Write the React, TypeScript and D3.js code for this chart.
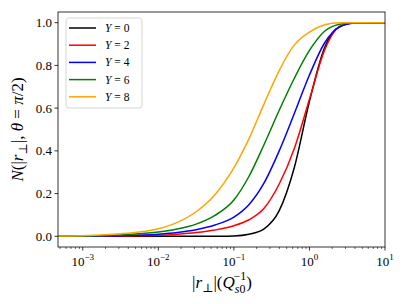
import React from "react";
import * as d3 from "d3";

// |r_perp| sample points (log-spaced) and N at each one, per rapidity Y
const rGrid = [
  4.7e-4, 1e-3, 3.16e-3, 0.01, 0.0178, 0.0316, 0.0562, 0.1, 0.158, 0.251, 0.398, 0.631, 1, 1.585, 2.512, 3.981,
  6.31, 10,
];
const nY0 = [0, 0, 0, 0, 0, 0, 0.0005, 0.002, 0.01, 0.035, 0.12, 0.322, 0.632, 0.882, 0.982, 1, 1, 1];
const nY2 = [0, 0.0003, 0.0015, 0.005, 0.01, 0.0175, 0.0295, 0.0495, 0.0775, 0.1315, 0.245, 0.4115, 0.6415, 0.8715, 0.9815, 1, 1, 1];
const nY4 = [0.0002, 0.0008, 0.003, 0.01, 0.018, 0.031, 0.053, 0.09, 0.148, 0.25, 0.4, 0.575, 0.755, 0.905, 0.98, 0.998, 1, 1];
const nY6 = [0.0005, 0.0015, 0.006, 0.02, 0.034, 0.057, 0.098, 0.17, 0.28, 0.43, 0.59, 0.74, 0.87, 0.96, 0.993, 1, 1, 1];
const nY8 = [0.001, 0.003, 0.012, 0.035, 0.065, 0.115, 0.195, 0.32, 0.456, 0.62, 0.776, 0.896, 0.956, 0.99, 1, 1, 1, 1];

const seriesNames = ["0", "2", "4", "6", "8"];
const seriesColors = ["#000000", "#ff0000", "#0000ff", "#008000", "#ffa500"];
const seriesValues = [nY0, nY2, nY4, nY6, nY8];

const xTickExps = [-3, -2, -1, 0, 1];
const yTicks = [0, 0.2, 0.4, 0.6, 0.8, 1.0];

const W = 406;
const H = 304;
const margin = { top: 12, right: 21, bottom: 57, left: 58 };
const font = "'Liberation Serif', 'DejaVu Serif', serif";

export default function App() {
  const x = d3.scaleLog().domain([4.7e-4, 10]).range([margin.left, W - margin.right]);
  const y = d3.scaleLinear().domain([-0.05, 1.05]).range([H - margin.bottom, margin.top]);

  const line = d3
    .line<[number, number]>()
    .x((d) => x(d[0]))
    .y((d) => y(d[1]))
    .curve(d3.curveMonotoneX);

  // minor ticks 2..9 x 10^k inside the domain
  const minor: number[] = [];
  for (let e = -4; e <= 0; e++) {
    for (let k = 2; k <= 9; k++) {
      const v = k * Math.pow(10, e);
      if (v >= 4.7e-4 && v <= 10) minor.push(v);
    }
  }

  const bottom = H - margin.bottom;
  const left = margin.left;

  return (
    <svg width={W} height={H} style={{ position: "absolute", left: 0, top: 0, background: "white" }}>
      <defs>
        <clipPath id="plotArea">
          <rect x={left} y={margin.top} width={W - margin.left - margin.right} height={bottom - margin.top} />
        </clipPath>
      </defs>

      <g clipPath="url(#plotArea)">
        {seriesValues.map((vals, i) => (
          <path
            key={i}
            d={line(rGrid.map((r, j) => [r, vals[j]] as [number, number])) || ""}
            fill="none"
            stroke={seriesColors[i]}
            strokeWidth={1.5}
          />
        ))}
      </g>

      {/* frame */}
      <rect
        x={left}
        y={margin.top}
        width={W - margin.left - margin.right}
        height={bottom - margin.top}
        fill="none"
        stroke="#000"
        strokeWidth={0.8}
      />

      {/* x ticks */}
      {minor.map((v, i) => (
        <line key={"m" + i} x1={x(v)} x2={x(v)} y1={bottom} y2={bottom + 2} stroke="#000" strokeWidth={0.6} />
      ))}
      {xTickExps.map((e) => {
        const px = x(Math.pow(10, e));
        return (
          <g key={"x" + e}>
            <line x1={px} x2={px} y1={bottom} y2={bottom + 3.5} stroke="#000" strokeWidth={0.8} />
            <text x={px} y={bottom + 19} textAnchor="middle" fontFamily={font} fontSize={13}>
              10
              <tspan dy={-6} fontSize={9}>
                {e < 0 ? "\u2212" + Math.abs(e) : String(e)}
              </tspan>
            </text>
          </g>
        );
      })}

      {/* y ticks */}
      {yTicks.map((t) => (
        <g key={"y" + t}>
          <line x1={left - 3.5} x2={left} y1={y(t)} y2={y(t)} stroke="#000" strokeWidth={0.8} />
          <text x={left - 6} y={y(t) + 4.5} textAnchor="end" fontFamily={font} fontSize={13}>
            {t.toFixed(1)}
          </text>
        </g>
      ))}

      {/* x label */}
      <text x={222} y={288} textAnchor="middle" fontFamily={font} fontSize={17}>
        |<tspan fontStyle="italic">r</tspan>
        <tspan dy={4} fontSize={12}>⊥</tspan>
        <tspan dy={-4}>|(</tspan>
        <tspan fontStyle="italic">Q</tspan>
        <tspan dy={5} fontSize={12}>
          <tspan fontStyle="italic">s</tspan>0
        </tspan>
        <tspan dx={-12} dy={-13} fontSize={12}>
          {"\u22121"}
        </tspan>
        <tspan dy={8}>)</tspan>
      </text>

      {/* y label */}
      <text
        transform={`translate(23,${(margin.top + bottom) / 2}) rotate(-90)`}
        textAnchor="middle"
        fontFamily={font}
        fontSize={17}
      >
        <tspan fontStyle="italic">N</tspan>(|<tspan fontStyle="italic">r</tspan>
        <tspan dy={4} fontSize={12}>⊥</tspan>
        <tspan dy={-4}>|, </tspan>
        <tspan fontStyle="italic">θ</tspan> = <tspan fontStyle="italic">π</tspan>/2)
      </text>

      {/* legend */}
      <rect x={66} y={18} width={76} height={90} rx={3} fill="white" fillOpacity={0.8} stroke="#cccccc" strokeWidth={0.8} />
      {seriesNames.map((n, i) => {
        const ly = 28 + i * 17.2;
        return (
          <g key={"l" + n}>
            <line x1={69} x2={96} y1={ly} y2={ly} stroke={seriesColors[i]} strokeWidth={1.5} />
            <text x={105} y={ly + 4} fontFamily={font} fontSize={11.5}>
              <tspan fontStyle="italic">Y</tspan> = {n}
            </text>
          </g>
        );
      })}
    </svg>
  );
}
